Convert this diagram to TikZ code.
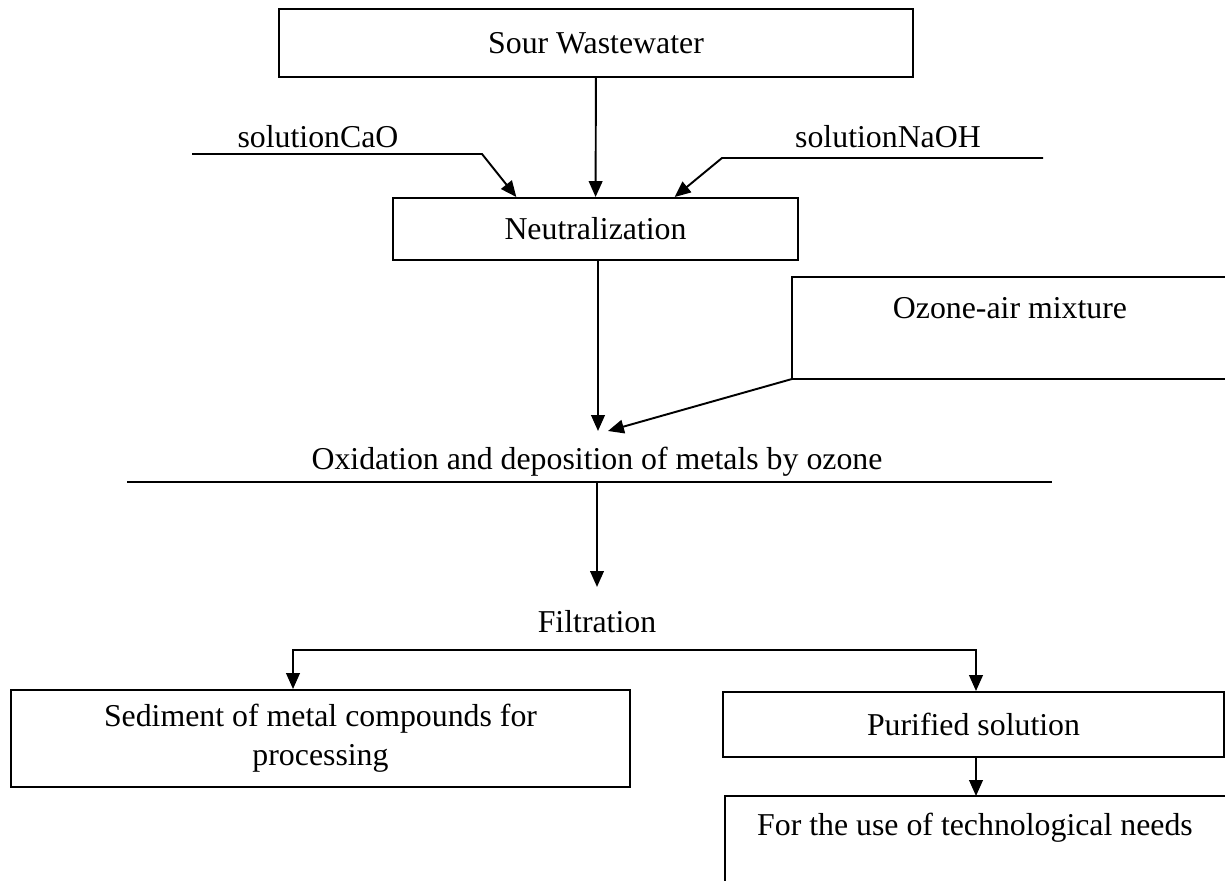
\documentclass[tikz,border=0pt]{standalone}
\usepackage{fontspec}
\setmainfont{Liberation Serif}
\usetikzlibrary{arrows.meta}

\begin{document}
\begin{tikzpicture}[x=0.44pt, y=-0.44pt, line width=0.85pt,
    every node/.style={font=\fontsize{14}{17}\selectfont},
    blocco/.style={draw, rectangle, inner sep=0pt, align=center},
    freccia/.style={-{Triangle[length=7pt,width=6pt]}},
    doppia/.style={{Triangle[length=7pt,width=6pt]}-{Triangle[length=7pt,width=6pt]}}]
    \useasboundingbox (0,0) rectangle (1225,881);

    % blocchi
    \node[blocco, minimum width=279pt, minimum height=29.9pt] (sour) at (596,43) {Sour Wastewater};
    \node[blocco, minimum width=178.2pt, minimum height=27.3pt] (neutr) at (595.5,229) {Neutralization};
    \node[blocco, minimum width=272.4pt, minimum height=42.7pt] (sedim) at (320.5,738.5) {Sediment of metal compounds for\\processing};
    \node[blocco, minimum width=220.4pt, minimum height=28.6pt] (purif) at (973.5,724.5) {Purified solution};

    % scritte libere
    \node (cao) at (318,137) {solutionCaO};
    \node (naoh) at (888,137) {solutionNaOH};
    \node (ozone) at (1010,308) {Ozone-air mixture};
    \node (oxid) at (597,462) {Oxidation and deposition of metals by ozone};
    \node[minimum height=30pt] (filtr) at (597,622) {Filtration};
    \node (tech) at (975,828) {For the use of technological needs};

    % riquadri aperti sul bordo
    \coordinate (ozonecorner) at (792,379);
    \draw (1225,277) -- (792,277) -- (ozonecorner) -- (1225,379);
    \coordinate (techtop) at (725,796);
    \draw (1225,796) -- (techtop) -- (725,881);

    % linee sotto le scritte
    \coordinate (caostart) at (192,154);
    \coordinate (caobend) at (482,154);
    \coordinate (naohstart) at (1043,158);
    \coordinate (naohbend) at (722,158);
    \coordinate (oxleft) at (127,482);
    \coordinate (oxright) at (1052,482);
    \draw (oxleft) -- (oxright);

    % frecce
    \draw[freccia] (sour) -- (neutr);
    \draw[freccia] (caostart) -- (caobend) -- (neutr.158);
    \draw[freccia] (naohstart) -- (naohbend) -- (neutr.22);
    \coordinate (oxtop) at (598,431);
    \draw[freccia] (neutr.south -| oxtop) -- (oxtop);
    \draw[freccia] (ozonecorner) -- ([xshift=4.4pt]oxtop);
    \draw[freccia] (oxleft -| filtr.north) -- (filtr.north);

    % diramazione dopo la filtrazione
    \coordinate (ramosx) at (293,650);
    \coordinate (ramodx) at (976,650);
    \draw[doppia] (ramosx |- sedim.north) -- (ramosx) -- (ramodx) -- (ramodx |- purif.north);
    \draw[freccia] (purif.south -| ramodx) -- (techtop -| ramodx);

\end{tikzpicture}
\end{document}
